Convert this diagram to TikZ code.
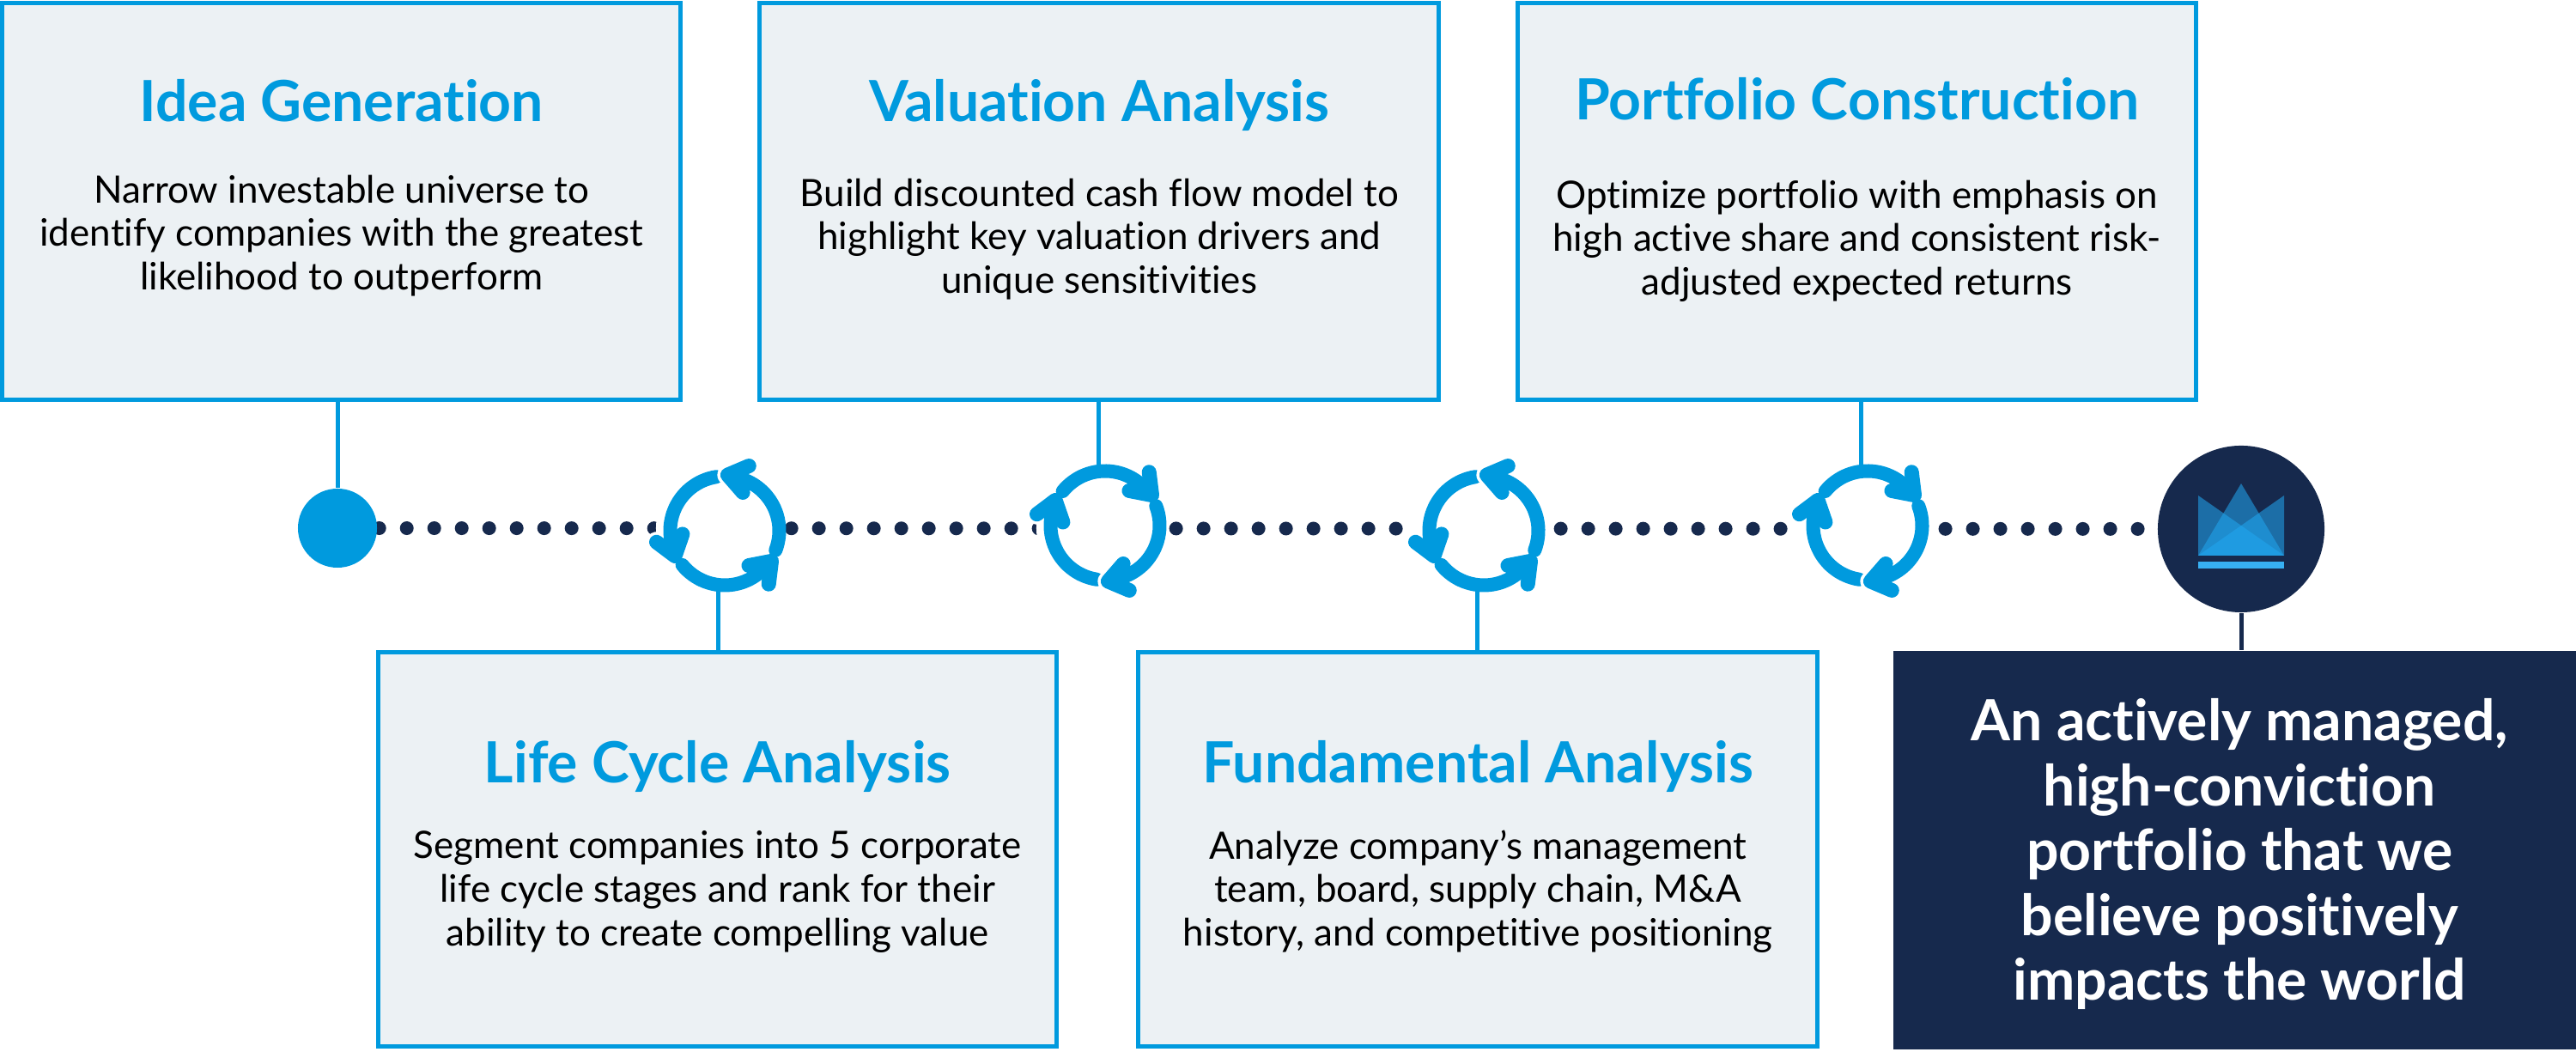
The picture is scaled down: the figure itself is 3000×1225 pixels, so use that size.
\documentclass[tikz,border=0pt]{standalone}
\usepackage{fontspec}
\setmainfont[Ligatures=CommonOff]{Lato}
\usetikzlibrary{positioning}
\usetikzlibrary{backgrounds}

\definecolor{skyblue}{HTML}{009ADE}
\definecolor{boxgrey}{HTML}{ECF1F4}
\definecolor{navyblue}{HTML}{16294D}
\definecolor{crownblue}{HTML}{21A7F1}

\begin{document}
\begin{tikzpicture}[x=0.01cm,y=0.01cm,
  main node/.style={rectangle,fill=boxgrey,draw=skyblue,line width=0.05cm,minimum width=7.9cm,minimum height=4.62cm},
  low node/.style={main node,minimum height=4.59cm},
  result node/.style={rectangle,fill=navyblue,minimum width=7.96cm,minimum height=4.64cm,inner sep=0pt},
  title node/.style={inner sep=0pt,text=skyblue,font=\bfseries\fontsize{18.8}{22}\selectfont},
  body node/.style={inner sep=0pt,align=center,font=\fontsize{12.5}{14.4}\selectfont},
  step dot/.style={circle,inner sep=0pt,minimum size=0.8cm},
  link/.style={draw=skyblue,line width=0.05cm},
  dots line/.style={draw=navyblue,line width=0.16cm,line cap=round,dash pattern=on 0pt off 0.3198cm,dash phase=0.30cm},
  cycle line/.style={draw=skyblue,line width=0.16cm,line cap=round,line join=round},
  cycle head/.style={cycle line,line width=0.17cm},
  cycle halo/.style={draw=white,line width=0.24cm,line cap=round,line join=round},
  crown part/.style={fill=crownblue,fill opacity=0.55},
  cycle icon/.pic={
    \begin{scope}[shift={(8,-3)}]
    \foreach \rot in {0,120,240} {
      \draw[cycle halo,rotate=\rot] (207:65) ++(143:27) -- (207:65) -- ++(71:27);
      \draw[cycle line,rotate=\rot] (99:63.5) arc[start angle=99,end angle=203,radius=63.5];
      \draw[cycle head,rotate=\rot] (207:65) ++(143:27) -- (207:65) -- ++(71:27);
    }
    \end{scope}
  }]

  \useasboundingbox (0,0) rectangle (3000,1225);

  % upper row
  \node[main node] (IG) [anchor=north west] at (0,1224) {};
  \node[main node] (VA) [right = 87 of IG] {};
  \node[main node] (PC) [right = 87 of VA] {};
  % lower row
  \node[low node] (LC) [anchor=north west] at (438,468) {};
  \node[low node] (FA) [right = 90 of LC] {};
  \node[result node] (RS) [anchor=north west] at (2204,468) {};

  \node[title node] (IGt) [below = 91 of IG.north] {Idea Generation};
  \node[body node] (IGb) [below = 202 of IG.north] {Narrow investable universe to\\identify companies with the greatest\\likelihood to outperform};
  \node[title node] (VAt) [below = 91 of VA.north] {Valuation Analysis};
  \node[body node] (VAb) [below = 206 of VA.north] {Build discounted cash flow model to\\highlight key valuation drivers and\\unique sensitivities};
  \node[title node] (PCt) [below = 89 of PC.north] {Portfolio Construction};
  \node[body node] (PCb) [below = 208 of PC.north] {Optimize portfolio with emphasis on\\high active share and consistent risk-\\adjusted expected returns};
  \node[title node] (LCt) [below = 105 of LC.north] {Life Cycle Analysis};
  \node[body node] (LCb) [below = 210 of LC.north] {Segment companies into 5 corporate\\life cycle stages and rank for their\\ability to create compelling value};
  \node[title node] (FAt) [below = 105 of FA.north] {Fundamental Analysis};
  \node[body node] (FAb) [below = 209 of FA.north] {Analyze company’s management\\team, board, supply chain, M\&A\\history, and competitive positioning};
  \node (RSt) [inner sep=0pt,align=center,text=white,font=\bfseries\fontsize{18.8}{21.5}\selectfont,xshift=1.5pt,yshift=-1.4pt] at (RS.center) {An actively managed,\\high-conviction\\portfolio that we\\believe positively\\impacts the world};

  \node[step dot,fill=skyblue,minimum size=0.92cm] (start) at (393,610) {};
  \node[circle,fill=navyblue,inner sep=0pt,minimum size=1.94cm] (final) at (2610,609) {};
  \node[step dot,fill=white,minimum size=1.44cm] (cyc1) at (836,610) {};
  \node[step dot,fill=white,minimum size=1.44cm] (cyc2) at (1279,610) {};
  \node[step dot,fill=white,minimum size=1.44cm] (cyc3) at (1720,610) {};
  \node[step dot,fill=white,minimum size=1.44cm] (cyc4) at (2167,610) {};

  \begin{pgfonlayer}{background}
    \draw[dots line] (start) -- (final.center);
  \end{pgfonlayer}

  \pic at (cyc1) {cycle icon};
  \pic[yscale=-1] at (cyc2) {cycle icon};
  \pic at (cyc3) {cycle icon};
  \pic[yscale=-1] at (cyc4) {cycle icon};

  \draw[link] (start |- IG.south) -- (start);
  \draw[link] (cyc2 |- VA.south) -- (cyc2);
  \draw[link] (cyc4 |- PC.south) -- (cyc4);
  \draw[link] (cyc1 |- LC.north) -- (cyc1);
  \draw[link] (cyc3 |- FA.north) -- (cyc3);
  \draw[link,draw=navyblue] (final |- RS.north) -- (final);

  % crown
  \begin{scope}[shift={(final)}]
    \fill[crown part] (-50,39) -- (50,-31) -- (-50,-31) -- cycle;
    \fill[crown part] (50,39) -- (50,-31) -- (-50,-31) -- cycle;
    \fill[crown part] (0,53) -- (50,-31) -- (-50,-31) -- cycle;
    \fill[crownblue!90!white] (-50,-38) rectangle (50,-46);
  \end{scope}
\end{tikzpicture}
\end{document}
